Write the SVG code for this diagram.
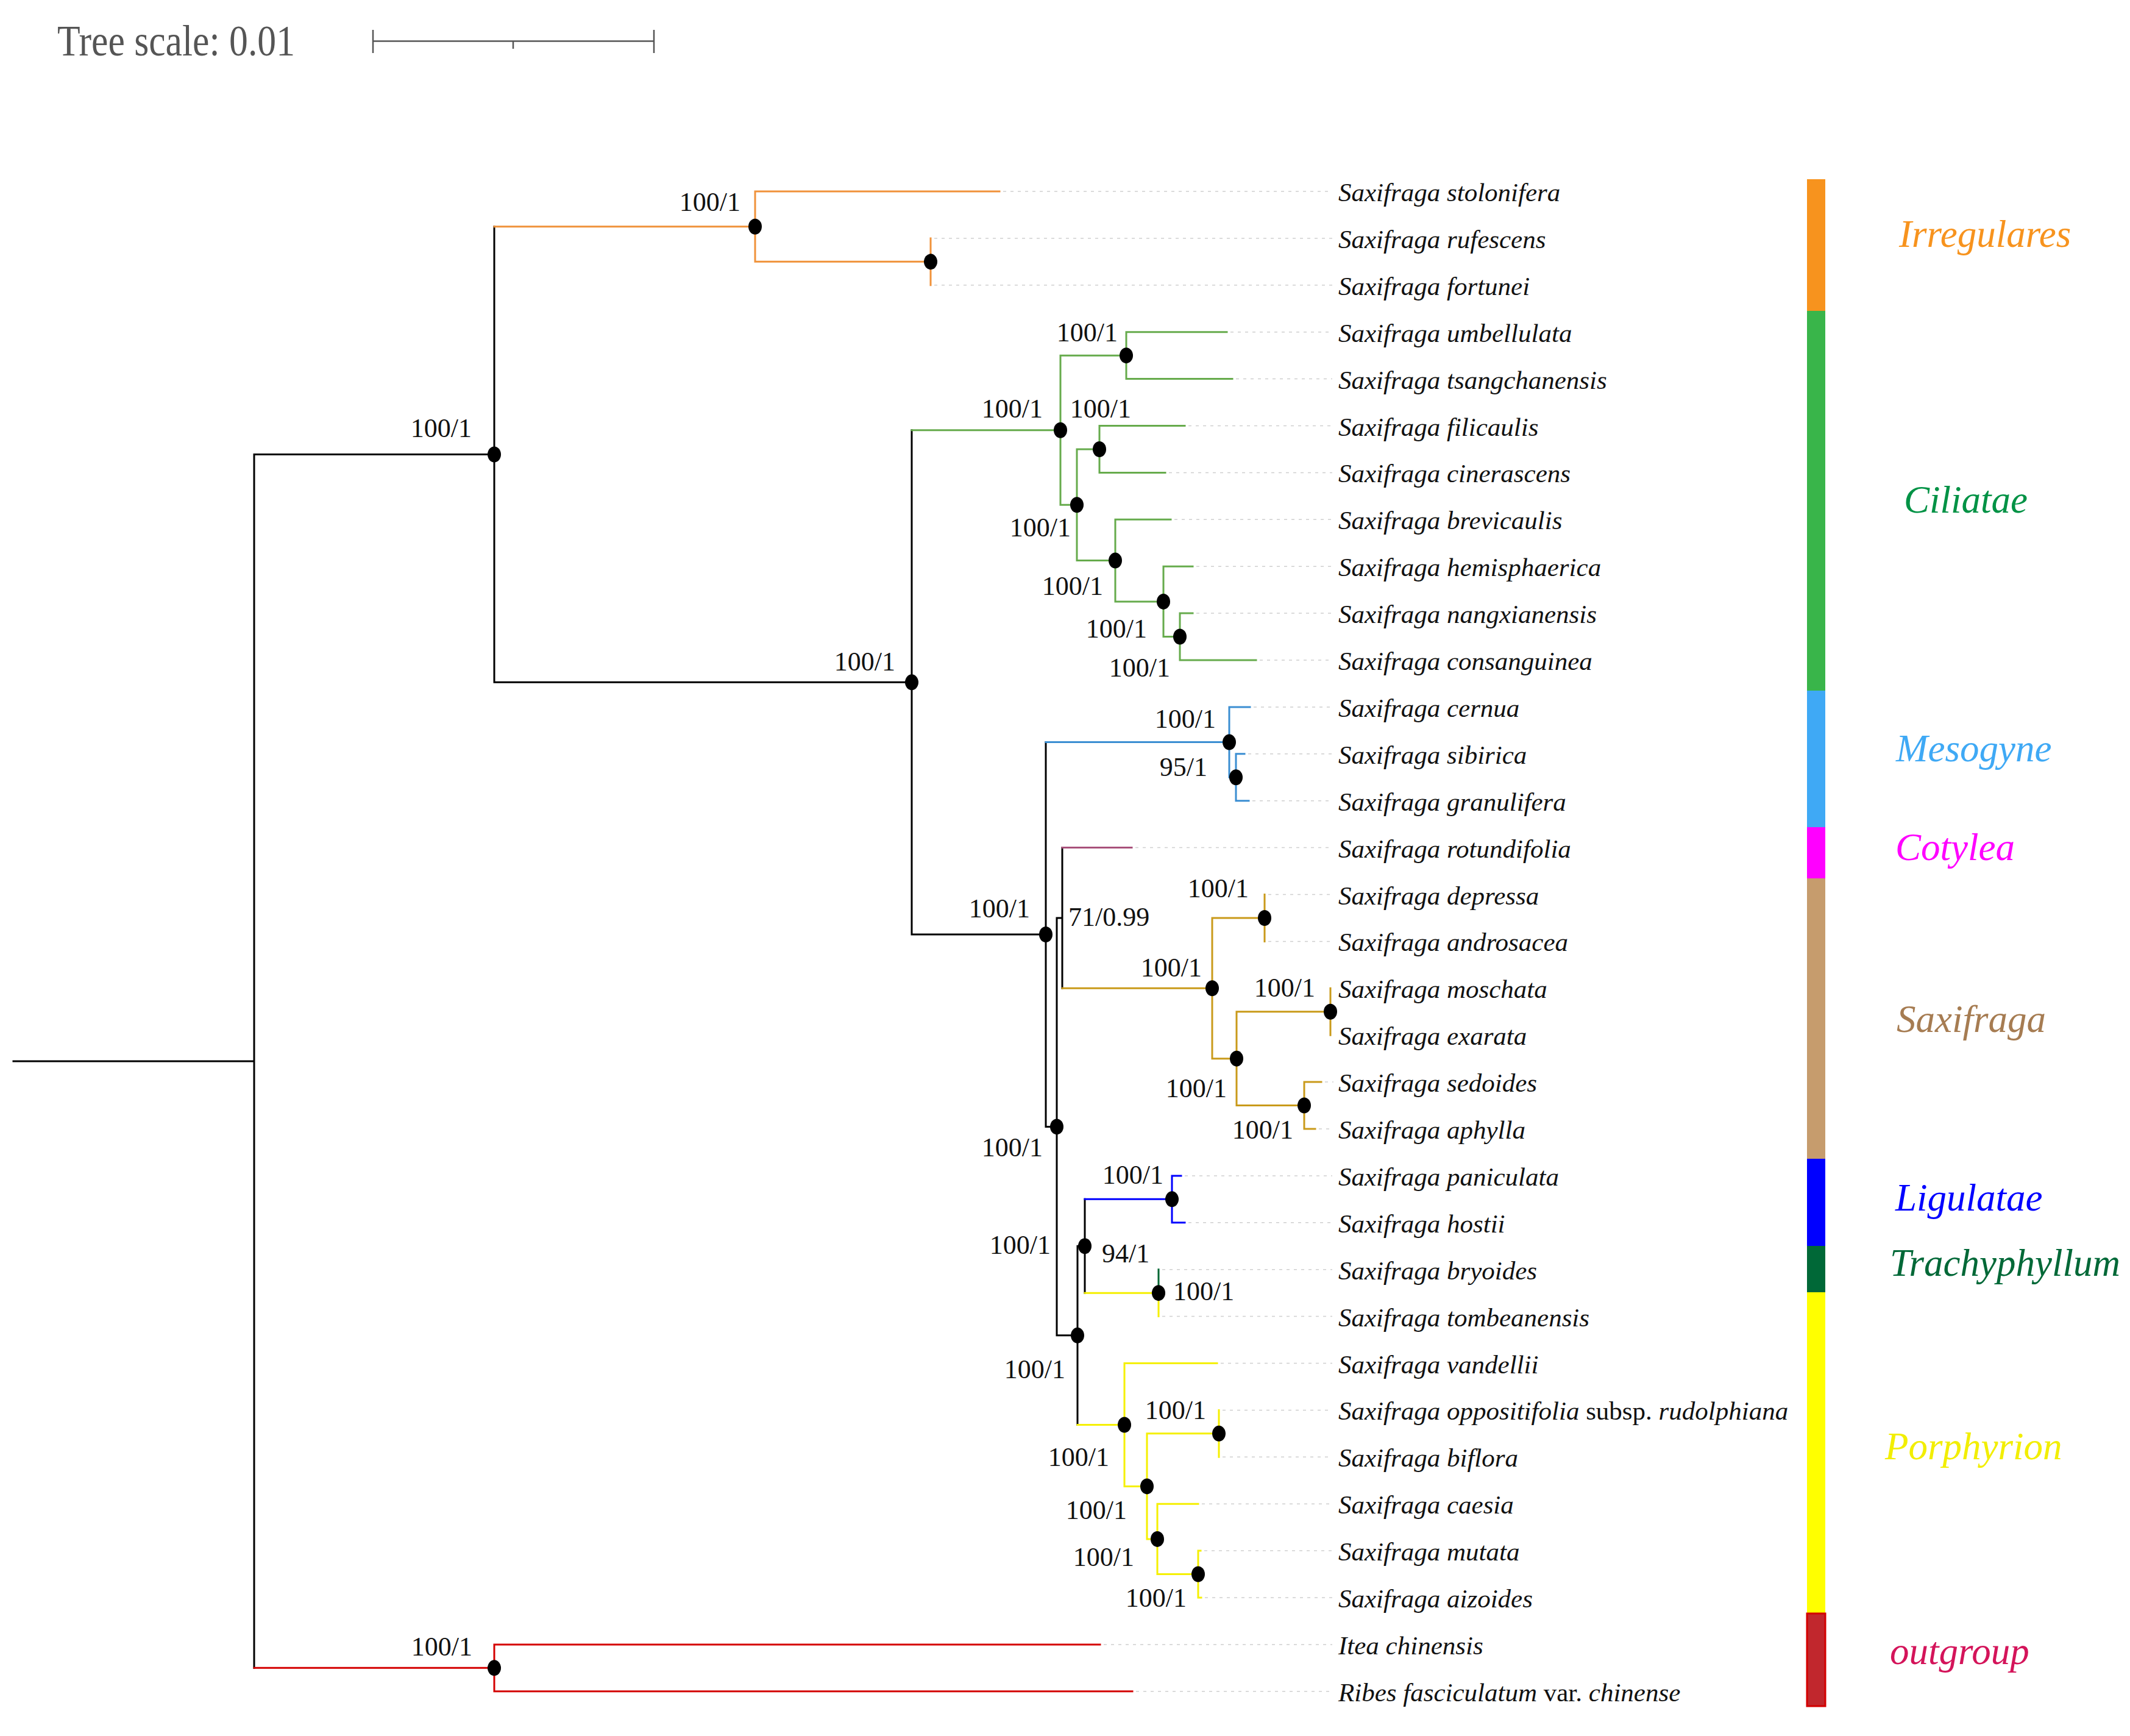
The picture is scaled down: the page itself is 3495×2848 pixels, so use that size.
<svg xmlns="http://www.w3.org/2000/svg" width="3495" height="2848" viewBox="0 0 3495 2848">
<style>
.br{fill:none;stroke-width:3;stroke-linecap:square}
.k{stroke:#000}
.or{stroke:#f0923a}
.gr{stroke:#66ab4c}
.mb{stroke:#3b8ed2}
.mv{stroke:#a8507a}
.gd{stroke:#c99a1a}
.lb{stroke:#0000ff}
.dg{stroke:#006633}
.ye{stroke:#f5f000}
.rd{stroke:#d40000}
.ld{stroke:#cfcfcf;stroke-width:1.5;stroke-dasharray:5 7}
.lf{font-family:"Liberation Serif","Times New Roman",serif;font-size:43px;font-style:italic;fill:#111}
.up{font-style:normal}
.bs{font-family:"Liberation Serif","Times New Roman",serif;font-size:44px;fill:#111}
.cl{font-family:"Liberation Serif","Times New Roman",serif;font-size:63px;font-style:italic}
.dot{fill:#000}
</style>
<rect x="0" y="0" width="3495" height="2848" fill="#fff"/>

<g id="scale">
<text x="94" y="91" font-family="Liberation Serif, Times New Roman, serif" font-size="72" fill="#555" textLength="390" lengthAdjust="spacingAndGlyphs">Tree scale: 0.01</text>
<path d="M612,67.5 H1073 M612,49 V87 M1073,49 V87 M842,67.5 V80" fill="none" stroke="#555" stroke-width="2.5"/>
</g>

<g id="connectors">
<path class="br k" d="M22,1740.9 H417 M417,745.5 V2736.35 M417,745.5 H811 M811,371.7 V1119.35 M811,1119.35 H1496 M1496,705.7 V1533 M1496,1533 H1716 M1716,1217.6 V1848.4 M1716,1848.4 H1734 M1734,1505.95 V2190.85 M1734,1505.95 H1743 M1743,1390.6 V1621.3 M1734,2190.85 H1768 M1768,2044.25 V2337.45 M1768,2044.25 H1780 M1780,1967.35 V2121.15"/>
<path class="br or" d="M811,371.7 H1239 M1239,314 V429.35 M1239,314 H1640 M1239,429.35 H1527 M1527,390.9 V467.8"/>
<path class="br gr" d="M1496,705.7 H1740 M1740,583.15 V828.3 M1740,583.15 H1848 M1848,544.7 V621.6 M1848,544.7 H2013 M1848,621.6 H2022 M1740,828.3 H1767 M1767,736.95 V919.6 M1767,736.95 H1804 M1804,698.5 V775.4 M1804,698.5 H1944 M1804,775.4 H1912 M1767,919.6 H1830 M1830,852.3 V986.9 M1830,852.3 H1921 M1830,986.9 H1909 M1909,929.2 V1044.55 M1909,929.2 H1957 M1909,1044.55 H1936 M1936,1006.1 V1083 M1936,1006.1 H1957 M1936,1083 H2061"/>
<path class="br mb" d="M1716,1217.6 H2017 M2017,1159.9 V1275.25 M2017,1159.9 H2051 M2017,1275.25 H2028 M2028,1236.8 V1313.7 M2028,1236.8 H2042 M2028,1313.7 H2049"/>
<path class="br mv" d="M1743,1390.6 H1857"/>
<path class="br gd" d="M1743,1621.3 H1989 M1989,1505.95 V1736.65 M1989,1505.95 H2075 M2075,1467.5 V1544.4 M1989,1736.65 H2029 M2029,1659.75 V1813.55 M2029,1659.75 H2183 M2183,1621.3 V1698.2 M2029,1813.55 H2140 M2140,1775.1 V1852 M2140,1775.1 H2168 M2140,1852 H2158"/>
<path class="br lb" d="M1780,1967.35 H1923 M1923,1928.9 V2005.8 M1923,1928.9 H1938 M1923,2005.8 H1944"/>
<path class="br dg" d="M1901,2082.7 V2121.15"/>
<path class="br ye" d="M1780,2121.15 H1901 M1901,2121.15 V2159.6 M1768,2337.45 H1845 M1845,2236.5 V2438.4 M1845,2236.5 H1997 M1845,2438.4 H1882 M1882,2351.85 V2524.9 M1882,2351.85 H2000 M2000,2313.4 V2390.3 M1882,2524.9 H1899 M1899,2467.2 V2582.55 M1899,2467.2 H1966 M1899,2582.55 H1966 M1966,2544.1 V2621 M1966,2544.1 H1970 M1966,2621 H1971"/>
<path class="br rd" d="M417,2736.35 H811 M811,2697.9 V2774.8 M811,2697.9 H1805 M811,2774.8 H1858"/>
</g>

<g id="leaves">
<g id="leaf-stolonifera"><line class="ld" x1="1646" y1="314" x2="2186" y2="314"/><text class="lf" x="2196" y="330">Saxifraga stolonifera</text></g>
<g id="leaf-rufescens"><line class="ld" x1="1533" y1="390.9" x2="2186" y2="390.9"/><text class="lf" x="2196" y="406.9">Saxifraga rufescens</text></g>
<g id="leaf-fortunei"><line class="ld" x1="1533" y1="467.8" x2="2186" y2="467.8"/><text class="lf" x="2196" y="483.8">Saxifraga fortunei</text></g>
<g id="leaf-umbellulata"><line class="ld" x1="2019" y1="544.7" x2="2186" y2="544.7"/><text class="lf" x="2196" y="560.7">Saxifraga umbellulata</text></g>
<g id="leaf-tsangchanensis"><line class="ld" x1="2028" y1="621.6" x2="2186" y2="621.6"/><text class="lf" x="2196" y="637.6">Saxifraga tsangchanensis</text></g>
<g id="leaf-filicaulis"><line class="ld" x1="1950" y1="698.5" x2="2186" y2="698.5"/><text class="lf" x="2196" y="714.5">Saxifraga filicaulis</text></g>
<g id="leaf-cinerascens"><line class="ld" x1="1918" y1="775.4" x2="2186" y2="775.4"/><text class="lf" x="2196" y="791.4">Saxifraga cinerascens</text></g>
<g id="leaf-brevicaulis"><line class="ld" x1="1927" y1="852.3" x2="2186" y2="852.3"/><text class="lf" x="2196" y="868.3">Saxifraga brevicaulis</text></g>
<g id="leaf-hemisphaerica"><line class="ld" x1="1963" y1="929.2" x2="2186" y2="929.2"/><text class="lf" x="2196" y="945.2">Saxifraga hemisphaerica</text></g>
<g id="leaf-nangxianensis"><line class="ld" x1="1963" y1="1006.1" x2="2186" y2="1006.1"/><text class="lf" x="2196" y="1022.1">Saxifraga nangxianensis</text></g>
<g id="leaf-consanguinea"><line class="ld" x1="2067" y1="1083" x2="2186" y2="1083"/><text class="lf" x="2196" y="1099">Saxifraga consanguinea</text></g>
<g id="leaf-cernua"><line class="ld" x1="2057" y1="1159.9" x2="2186" y2="1159.9"/><text class="lf" x="2196" y="1175.9">Saxifraga cernua</text></g>
<g id="leaf-sibirica"><line class="ld" x1="2048" y1="1236.8" x2="2186" y2="1236.8"/><text class="lf" x="2196" y="1252.8">Saxifraga sibirica</text></g>
<g id="leaf-granulifera"><line class="ld" x1="2055" y1="1313.7" x2="2186" y2="1313.7"/><text class="lf" x="2196" y="1329.7">Saxifraga granulifera</text></g>
<g id="leaf-rotundifolia"><line class="ld" x1="1863" y1="1390.6" x2="2186" y2="1390.6"/><text class="lf" x="2196" y="1406.6">Saxifraga rotundifolia</text></g>
<g id="leaf-depressa"><line class="ld" x1="2081" y1="1467.5" x2="2186" y2="1467.5"/><text class="lf" x="2196" y="1483.5">Saxifraga depressa</text></g>
<g id="leaf-androsacea"><line class="ld" x1="2081" y1="1544.4" x2="2186" y2="1544.4"/><text class="lf" x="2196" y="1560.4">Saxifraga androsacea</text></g>
<g id="leaf-moschata"><text class="lf" x="2196" y="1637.3">Saxifraga moschata</text></g>
<g id="leaf-exarata"><text class="lf" x="2196" y="1714.2">Saxifraga exarata</text></g>
<g id="leaf-sedoides"><line class="ld" x1="2174" y1="1775.1" x2="2188" y2="1775.1"/><text class="lf" x="2196" y="1791.1">Saxifraga sedoides</text></g>
<g id="leaf-aphylla"><line class="ld" x1="2164" y1="1852" x2="2188" y2="1852"/><text class="lf" x="2196" y="1868">Saxifraga aphylla</text></g>
<g id="leaf-paniculata"><line class="ld" x1="1944" y1="1928.9" x2="2186" y2="1928.9"/><text class="lf" x="2196" y="1944.9">Saxifraga paniculata</text></g>
<g id="leaf-hostii"><line class="ld" x1="1950" y1="2005.8" x2="2186" y2="2005.8"/><text class="lf" x="2196" y="2021.8">Saxifraga hostii</text></g>
<g id="leaf-bryoides"><line class="ld" x1="1907" y1="2082.7" x2="2186" y2="2082.7"/><text class="lf" x="2196" y="2098.7">Saxifraga bryoides</text></g>
<g id="leaf-tombeanensis"><line class="ld" x1="1907" y1="2159.6" x2="2186" y2="2159.6"/><text class="lf" x="2196" y="2175.6">Saxifraga tombeanensis</text></g>
<g id="leaf-vandellii"><line class="ld" x1="2003" y1="2236.5" x2="2186" y2="2236.5"/><text class="lf" x="2196" y="2252.5">Saxifraga vandellii</text></g>
<g id="leaf-oppositifolia"><line class="ld" x1="2006" y1="2313.4" x2="2186" y2="2313.4"/><text class="lf" x="2196" y="2329.4">Saxifraga oppositifolia <tspan class="up">subsp.</tspan> rudolphiana</text></g>
<g id="leaf-biflora"><line class="ld" x1="2006" y1="2390.3" x2="2186" y2="2390.3"/><text class="lf" x="2196" y="2406.3">Saxifraga biflora</text></g>
<g id="leaf-caesia"><line class="ld" x1="1972" y1="2467.2" x2="2186" y2="2467.2"/><text class="lf" x="2196" y="2483.2">Saxifraga caesia</text></g>
<g id="leaf-mutata"><line class="ld" x1="1976" y1="2544.1" x2="2186" y2="2544.1"/><text class="lf" x="2196" y="2560.1">Saxifraga mutata</text></g>
<g id="leaf-aizoides"><line class="ld" x1="1977" y1="2621" x2="2186" y2="2621"/><text class="lf" x="2196" y="2637">Saxifraga aizoides</text></g>
<g id="leaf-itea"><line class="ld" x1="1811" y1="2697.9" x2="2186" y2="2697.9"/><text class="lf" x="2196" y="2713.9">Itea chinensis</text></g>
<g id="leaf-ribes"><line class="ld" x1="1864" y1="2774.8" x2="2186" y2="2774.8"/><text class="lf" x="2196" y="2790.8">Ribes fasciculatum <tspan class="up">var.</tspan> chinense</text></g>
</g>

<g id="nodes">
<g id="n-A"><ellipse class="dot" cx="811" cy="745.5" rx="11" ry="13"/><text class="bs" x="774" y="717" text-anchor="end">100/1</text></g>
<g id="n-Irr"><ellipse class="dot" cx="1239" cy="371.7" rx="11" ry="13"/><text class="bs" x="1215" y="346" text-anchor="end">100/1</text></g>
<g id="n-Irr2"><ellipse class="dot" cx="1527" cy="429.35" rx="11" ry="13"/></g>
<g id="n-B"><ellipse class="dot" cx="1496" cy="1119.35" rx="11" ry="13"/><text class="bs" x="1469" y="1100" text-anchor="end">100/1</text></g>
<g id="n-C"><ellipse class="dot" cx="1740" cy="705.7" rx="11" ry="13"/><text class="bs" x="1711" y="685" text-anchor="end">100/1</text></g>
<g id="n-D"><ellipse class="dot" cx="1848" cy="583.15" rx="11" ry="13"/><text class="bs" x="1834" y="560" text-anchor="end">100/1</text></g>
<g id="n-F"><ellipse class="dot" cx="1804" cy="736.95" rx="11" ry="13"/><text class="bs" x="1856" y="685" text-anchor="end">100/1</text></g>
<g id="n-E"><ellipse class="dot" cx="1767" cy="828.3" rx="11" ry="13"/><text class="bs" x="1757" y="880" text-anchor="end">100/1</text></g>
<g id="n-G"><ellipse class="dot" cx="1830" cy="919.6" rx="11" ry="13"/><text class="bs" x="1810" y="976" text-anchor="end">100/1</text></g>
<g id="n-H"><ellipse class="dot" cx="1909" cy="986.9" rx="11" ry="13"/><text class="bs" x="1882" y="1046" text-anchor="end">100/1</text></g>
<g id="n-I"><ellipse class="dot" cx="1936" cy="1044.55" rx="11" ry="13"/><text class="bs" x="1920" y="1110" text-anchor="end">100/1</text></g>
<g id="n-M1"><ellipse class="dot" cx="2017" cy="1217.6" rx="11" ry="13"/><text class="bs" x="1995" y="1194" text-anchor="end">100/1</text></g>
<g id="n-M2"><ellipse class="dot" cx="2028" cy="1275.25" rx="11" ry="13"/><text class="bs" x="1981" y="1273" text-anchor="end">95/1</text></g>
<g id="n-N1"><ellipse class="dot" cx="1716" cy="1533" rx="11" ry="13"/><text class="bs" x="1690" y="1505" text-anchor="end">100/1</text></g>
<g id="n-cot"><text class="bs" x="1753" y="1519">71/0.99</text></g>
<g id="n-S1"><ellipse class="dot" cx="1989" cy="1621.3" rx="11" ry="13"/><text class="bs" x="1972" y="1602" text-anchor="end">100/1</text></g>
<g id="n-S2"><ellipse class="dot" cx="2075" cy="1505.95" rx="11" ry="13"/><text class="bs" x="2049" y="1472" text-anchor="end">100/1</text></g>
<g id="n-S3"><ellipse class="dot" cx="2029" cy="1736.65" rx="11" ry="13"/><text class="bs" x="2013" y="1800" text-anchor="end">100/1</text></g>
<g id="n-S4"><ellipse class="dot" cx="2183" cy="1659.75" rx="11" ry="13"/><text class="bs" x="2158" y="1635" text-anchor="end">100/1</text></g>
<g id="n-S5"><ellipse class="dot" cx="2140" cy="1813.55" rx="11" ry="13"/><text class="bs" x="2122" y="1868" text-anchor="end">100/1</text></g>
<g id="n-N2"><ellipse class="dot" cx="1734" cy="1848.4" rx="11" ry="13"/><text class="bs" x="1711" y="1897" text-anchor="end">100/1</text></g>
<g id="n-N4"><ellipse class="dot" cx="1780" cy="2044.25" rx="11" ry="13"/><text class="bs" x="1724" y="2057" text-anchor="end">100/1</text><text class="bs" x="1808" y="2071">94/1</text></g>
<g id="n-L"><ellipse class="dot" cx="1923" cy="1967.35" rx="11" ry="13"/><text class="bs" x="1909" y="1942" text-anchor="end">100/1</text></g>
<g id="n-T"><ellipse class="dot" cx="1901" cy="2121.15" rx="11" ry="13"/><text class="bs" x="1925" y="2133">100/1</text></g>
<g id="n-N3"><ellipse class="dot" cx="1768" cy="2190.85" rx="11" ry="13"/><text class="bs" x="1748" y="2261" text-anchor="end">100/1</text></g>
<g id="n-P1"><ellipse class="dot" cx="1845" cy="2337.45" rx="11" ry="13"/><text class="bs" x="1820" y="2405" text-anchor="end">100/1</text></g>
<g id="n-P2"><ellipse class="dot" cx="1882" cy="2438.4" rx="11" ry="13"/><text class="bs" x="1849" y="2492" text-anchor="end">100/1</text></g>
<g id="n-P3"><ellipse class="dot" cx="2000" cy="2351.85" rx="11" ry="13"/><text class="bs" x="1979" y="2328" text-anchor="end">100/1</text></g>
<g id="n-P4"><ellipse class="dot" cx="1899" cy="2524.9" rx="11" ry="13"/><text class="bs" x="1861" y="2569" text-anchor="end">100/1</text></g>
<g id="n-P5"><ellipse class="dot" cx="1966" cy="2582.55" rx="11" ry="13"/><text class="bs" x="1947" y="2636" text-anchor="end">100/1</text></g>
<g id="n-O"><ellipse class="dot" cx="811" cy="2736.35" rx="11" ry="13"/><text class="bs" x="775" y="2716" text-anchor="end">100/1</text></g>
</g>

<g id="clades">
<g id="clade-Irregulares"><rect x="2965" y="294" width="30" height="216" fill="#f7931e"/><text class="cl" x="3116" y="405" fill="#f7931e">Irregulares</text></g>
<g id="clade-Ciliatae"><rect x="2965" y="510" width="30" height="623" fill="#39b54a"/><text class="cl" x="3124" y="841" fill="#009245">Ciliatae</text></g>
<g id="clade-Mesogyne"><rect x="2965" y="1133" width="30" height="224" fill="#3fa9f5"/><text class="cl" x="3111" y="1249" fill="#3fa9f5">Mesogyne</text></g>
<g id="clade-Cotylea"><rect x="2965" y="1357" width="30" height="84" fill="#ff00ff"/><text class="cl" x="3110" y="1411" fill="#ff00ff">Cotylea</text></g>
<g id="clade-Saxifraga"><rect x="2965" y="1441" width="30" height="460" fill="#c69c6d"/><text class="cl" x="3112" y="1693" fill="#a67c52">Saxifraga</text></g>
<g id="clade-Ligulatae"><rect x="2965" y="1901" width="30" height="143" fill="#0000ff"/><text class="cl" x="3110" y="1986" fill="#0000ff">Ligulatae</text></g>
<g id="clade-Trachyphyllum"><rect x="2965" y="2044" width="30" height="76" fill="#006837"/><text class="cl" x="3101" y="2093" fill="#006837">Trachyphyllum</text></g>
<g id="clade-Porphyrion"><rect x="2965" y="2120" width="30" height="526" fill="#ffff00"/><text class="cl" x="3093" y="2394" fill="#f2ee00">Porphyrion</text></g>
<g id="clade-outgroup"><rect x="2965" y="2647" width="30" height="152" fill="#c1272d" stroke="#d40000" stroke-width="3"/><text class="cl" x="3101" y="2730" fill="#d4145a">outgroup</text></g>
</g>
</svg>
